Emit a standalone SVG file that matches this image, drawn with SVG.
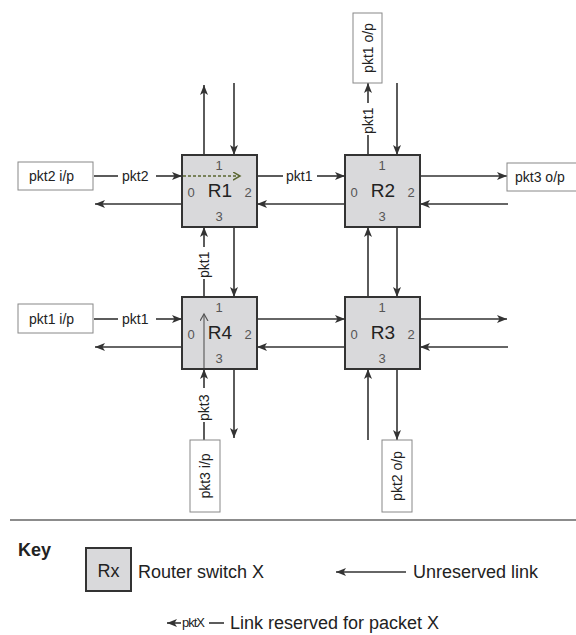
<svg xmlns="http://www.w3.org/2000/svg" width="576" height="635" viewBox="0 0 576 635">
<defs>
<marker id="ah" markerWidth="11" markerHeight="9" refX="10" refY="4" orient="auto" markerUnits="userSpaceOnUse">
<path d="M0,0 L10,4 L0,8 L2.5,4 z" fill="#333"/>
</marker>
<marker id="open" markerWidth="9" markerHeight="9" refX="7" refY="4" orient="auto" markerUnits="userSpaceOnUse">
<path d="M0,0 L7,4 L0,8" fill="none" stroke="#555" stroke-width="1.2"/>
</marker>
<marker id="openg" markerWidth="9" markerHeight="9" refX="7" refY="4" orient="auto" markerUnits="userSpaceOnUse">
<path d="M0,0 L7,4 L0,8" fill="none" stroke="#5a6630" stroke-width="1.5"/>
</marker>
</defs>
<style>
.router{fill:#d9d9db;stroke:#333;stroke-width:2}
.io{fill:#fff;stroke:#888;stroke-width:1}
.ln{stroke:#333;stroke-width:1.6;fill:none}
.arr{stroke:#333;stroke-width:1.6;fill:none;marker-end:url(#ah)}
.t{font-family:"Liberation Sans",Arial,sans-serif;fill:#222}
.lab{font-size:14px}
.port{font-size:13px;fill:#555;text-anchor:middle}
.rn{font-size:19px;text-anchor:middle;fill:#222}
.key{font-size:18px}
</style>

<g id="connectors">
<!-- R1 top -->
<line class="arr" x1="204" y1="155" x2="204" y2="85"/>
<line class="arr" x1="234" y1="83" x2="234" y2="155"/>
<!-- pkt2 input -->
<line class="ln" x1="94" y1="176" x2="118" y2="176"/>
<text class="t lab" x="122" y="181">pkt2</text>
<line class="arr" x1="156" y1="176" x2="182" y2="176"/>
<!-- R1 left out -->
<line class="arr" x1="182" y1="204" x2="95" y2="204"/>
<!-- R1 -> R2 pkt1 -->
<line class="ln" x1="258" y1="176" x2="283" y2="176"/>
<text class="t lab" x="286" y="181">pkt1</text>
<line class="arr" x1="317" y1="176" x2="345" y2="176"/>
<line class="arr" x1="345" y1="204" x2="257" y2="204"/>
<!-- R4 -> R1 pkt1 -->
<line class="ln" x1="204" y1="297" x2="204" y2="279"/>
<text class="t lab" transform="translate(209,278) rotate(-90)">pkt1</text>
<line class="arr" x1="204" y1="247" x2="204" y2="227"/>
<line class="arr" x1="234" y1="227" x2="234" y2="297"/>
<!-- R2 top pkt1 out -->
<line class="ln" x1="368" y1="155" x2="368" y2="135"/>
<text class="t lab" transform="translate(373,134) rotate(-90)">pkt1</text>
<line class="arr" x1="368" y1="103" x2="368" y2="83"/>
<line class="arr" x1="397" y1="83" x2="397" y2="155"/>
<!-- R2 right -->
<line class="arr" x1="420" y1="176" x2="507" y2="176"/>
<line class="arr" x1="508" y1="204" x2="420" y2="204"/>
<!-- R2 / R3 -->
<line class="arr" x1="368" y1="297" x2="368" y2="227"/>
<line class="arr" x1="397" y1="227" x2="397" y2="297"/>
<!-- pkt1 input R4 -->
<line class="ln" x1="94" y1="319" x2="118" y2="319"/>
<text class="t lab" x="122" y="324">pkt1</text>
<line class="arr" x1="156" y1="319" x2="182" y2="319"/>
<line class="arr" x1="182" y1="347" x2="95" y2="347"/>
<!-- R4 / R3 -->
<line class="arr" x1="257" y1="319" x2="345" y2="319"/>
<line class="arr" x1="345" y1="347" x2="257" y2="347"/>
<!-- R3 right -->
<line class="arr" x1="420" y1="319" x2="507" y2="319"/>
<line class="arr" x1="508" y1="347" x2="420" y2="347"/>
<!-- pkt3 input R4 bottom -->
<line class="ln" x1="204" y1="440" x2="204" y2="422"/>
<text class="t lab" transform="translate(209,421) rotate(-90)">pkt3</text>
<line class="arr" x1="204" y1="388" x2="204" y2="369"/>
<line class="arr" x1="234" y1="369" x2="234" y2="438"/>
<!-- R3 bottom -->
<line class="arr" x1="368" y1="440" x2="368" y2="369"/>
<line class="arr" x1="397" y1="369" x2="397" y2="440"/>
</g>

<g id="R1">
<rect class="router" x="182" y="155" width="75" height="72"/>
<line x1="183" y1="176" x2="240" y2="176" stroke="#5a6630" stroke-width="1.5" stroke-dasharray="3,2" marker-end="url(#openg)"/>
<text class="t port" x="219" y="170">1</text>
<text class="t port" x="191" y="197">0</text>
<text class="t rn" x="220" y="197">R1</text>
<text class="t port" x="248" y="197">2</text>
<text class="t port" x="219" y="221">3</text>
</g>
<g id="R2">
<rect class="router" x="345" y="155" width="75" height="72"/>
<text class="t port" x="382" y="170">1</text>
<text class="t port" x="354" y="197">0</text>
<text class="t rn" x="383" y="197">R2</text>
<text class="t port" x="411" y="197">2</text>
<text class="t port" x="382" y="221">3</text>
</g>
<g id="R4">
<rect class="router" x="182" y="297" width="75" height="72"/>
<line x1="204" y1="368" x2="204" y2="314" stroke="#555" stroke-width="1.1" marker-end="url(#open)"/>
<text class="t port" x="219" y="312">1</text>
<text class="t port" x="191" y="339">0</text>
<text class="t rn" x="220" y="339">R4</text>
<text class="t port" x="248" y="339">2</text>
<text class="t port" x="219" y="363">3</text>
</g>
<g id="R3">
<rect class="router" x="345" y="297" width="75" height="72"/>
<text class="t port" x="382" y="312">1</text>
<text class="t port" x="354" y="339">0</text>
<text class="t rn" x="383" y="339">R3</text>
<text class="t port" x="411" y="339">2</text>
<text class="t port" x="382" y="363">3</text>
</g>

<g id="pkt2-ip">
<rect class="io" x="18" y="162" width="75" height="28"/>
<text class="t lab" x="29" y="181">pkt2 i/p</text>
</g>
<g id="pkt1-ip">
<rect class="io" x="18" y="304" width="75" height="29"/>
<text class="t lab" x="29" y="324">pkt1 i/p</text>
</g>
<g id="pkt1-op">
<rect class="io" x="353" y="13" width="29" height="70"/>
<text class="t lab" text-anchor="middle" transform="translate(373,48) rotate(-90)">pkt1 o/p</text>
</g>
<g id="pkt3-op">
<rect class="io" x="507" y="163" width="72" height="28"/>
<text class="t lab" x="515" y="182">pkt3 o/p</text>
</g>
<g id="pkt3-ip">
<rect class="io" x="190" y="440" width="30" height="72"/>
<text class="t lab" text-anchor="middle" transform="translate(210,476) rotate(-90)">pkt3 i/p</text>
</g>
<g id="pkt2-op">
<rect class="io" x="382" y="440" width="30" height="72"/>
<text class="t lab" text-anchor="middle" transform="translate(402,476) rotate(-90)">pkt2 o/p</text>
</g>

<g id="key">
<line x1="10" y1="520" x2="576" y2="520" stroke="#666" stroke-width="1.5"/>
<text class="t" x="18" y="556" font-size="18" font-weight="bold">Key</text>
<rect class="router" x="86" y="548" width="45" height="43"/>
<text class="t" x="108.5" y="577" font-size="18" text-anchor="middle">Rx</text>
<text class="t key" x="138" y="578">Router switch X</text>
<line class="arr" x1="406" y1="572" x2="336" y2="572"/>
<text class="t key" x="413" y="578">Unreserved link</text>
<line class="arr" x1="181" y1="623" x2="167" y2="623"/>
<text class="t" x="182" y="627" font-size="13" letter-spacing="-1">pktX</text>
<line class="ln" x1="209" y1="623" x2="224" y2="623"/>
<text class="t key" x="230" y="629">Link reserved for packet  X</text>
</g>
</svg>
